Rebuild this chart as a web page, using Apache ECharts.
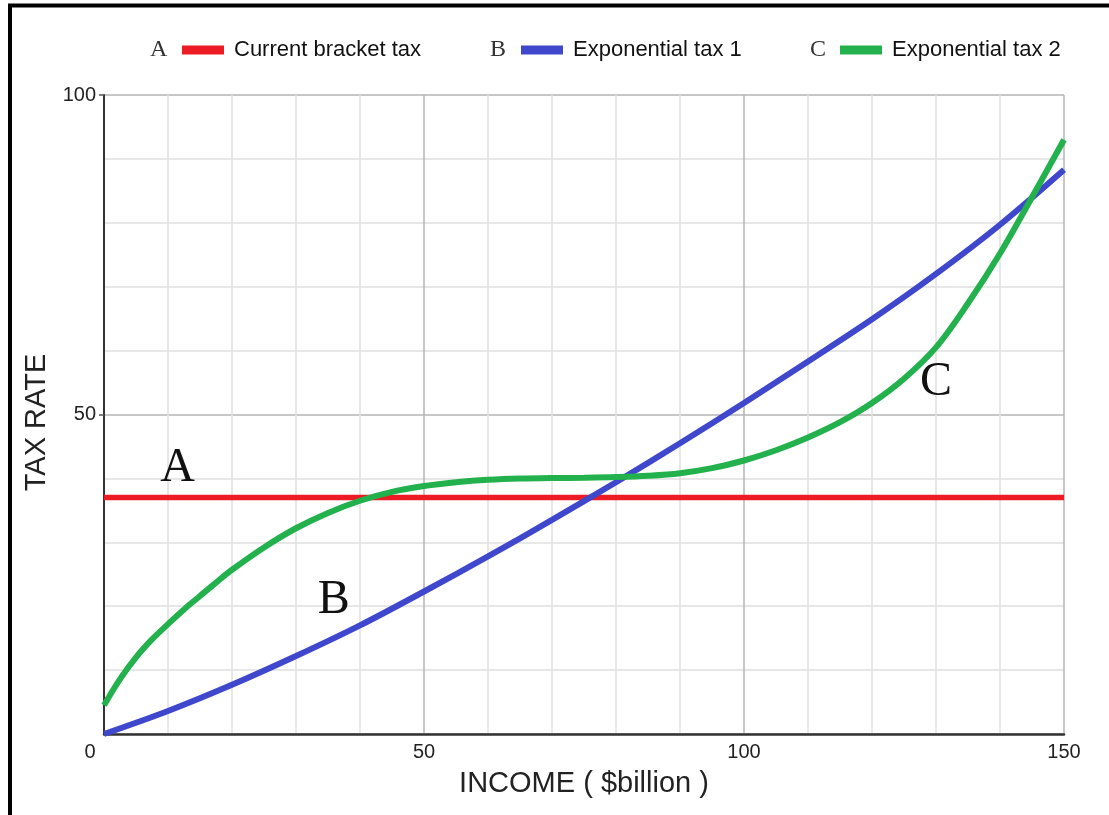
<!DOCTYPE html>
<html>
<head>
<meta charset="utf-8">
<script src="https://cdn.jsdelivr.net/npm/echarts@6/dist/echarts.min.js"></script>
<style>
html,body{margin:0;padding:0;background:#fff;}
#chart{width:1109px;height:815px;}
</style>
</head>
<body>
<div id="chart"></div>
<script>
// ---- data ----
const incomeTicks = [0, 50, 100, 150];
const rateTicks = [0, 50, 100];

const bracketIncome = [0, 150];
const bracketRate = [37, 37];

const exp1Income = [0, 10, 20, 30, 40, 50, 60, 70, 80, 90, 100, 110, 120, 130, 140, 150];
const exp1Rate = [0, 3.6, 7.7, 12.2, 17.0, 22.3, 27.8, 33.5, 39.4, 45.5, 51.8, 58.3, 64.9,
  72.0, 79.7, 88.3];

const exp2Income = [0, 2.5, 5, 7.5, 10, 12.5, 15, 17.5, 20, 25, 30, 35, 40, 45, 50, 55, 60,
  65, 70, 75, 80, 85, 90, 95, 100, 105, 110, 115, 120, 125, 130, 135, 140, 145, 150];
const exp2Rate = [4.5, 8.6, 12.0, 14.8, 17.2, 19.5, 21.6, 23.7, 25.7, 29.2, 32.2, 34.6,
  36.5, 37.9, 38.8, 39.4, 39.8, 40.0, 40.05, 40.1, 40.2, 40.4, 40.8, 41.6, 42.8, 44.4,
  46.4, 48.8, 51.8, 55.6, 60.5, 67.4, 75.2, 84.0, 93.0];

const seriesNames = ['Current bracket tax', 'Exponential tax 1', 'Exponential tax 2'];
const seriesLetters = ['A', 'B', 'C'];
const letterIncome = [11.5, 35.9, 130.0];
const letterRate = [41.6, 20.9, 55.1];
const colors = ['#ed1c24', '#3f48cc', '#22b14c'];

// ---- chart ----
const chart = echarts.init(document.getElementById('chart'));
const pairs = (xs, ys) => xs.map((x, i) => [x, ys[i]]);
const sans = '"Liberation Sans", Arial, sans-serif';
const serif = '"Liberation Serif", "Times New Roman", serif';

const legendLefts = [177, 516, 835];
const letterLefts = [158, 498, 818];

function letterMark(i) {
  return {
    symbol: 'rect', symbolSize: 0, silent: true,
    data: [{ coord: [letterIncome[i], letterRate[i]], value: seriesLetters[i] }],
    label: { show: true, position: 'inside', formatter: seriesLetters[i],
      fontFamily: serif, fontSize: 48, color: '#111' }
  };
}

const option = {
  animation: false,
  backgroundColor: '#fff',
  color: colors,
  grid: { left: 104, right: 45, top: 95, bottom: 81, containLabel: false },
  legend: seriesNames.map((n, i) => ({
    left: legendLefts[i], top: 34, icon: 'rect', itemWidth: 42, itemHeight: 9,
    selectedMode: false, data: [n],
    textStyle: { fontSize: 22, color: '#111', fontFamily: sans, padding: [0, 0, 0, 5] }
  })),
  xAxis: {
    type: 'value', min: 0, max: 150, interval: 50,
    name: 'INCOME ( $billion )', nameLocation: 'middle', nameGap: 35,
    nameTextStyle: { fontSize: 29, color: '#222', fontFamily: sans },
    axisLine: { show: true, onZero: false, lineStyle: { color: '#333', width: 2.5 } },
    axisTick: { show: false },
    axisLabel: {
      fontSize: 20, color: '#222', fontFamily: sans, margin: 8,
      formatter: v => (v === 0 ? '{z|0}' : String(v)),
      rich: { z: { fontSize: 20, color: '#222', fontFamily: sans, padding: [0, 28, 0, 0] } }
    },
    splitLine: { show: true, lineStyle: { color: '#b4b4b4', width: 1.5 } },
    minorTick: { show: false, splitNumber: 5 },
    minorSplitLine: { show: true, lineStyle: { color: '#e0e0e0', width: 1.5 } }
  },
  yAxis: {
    type: 'value', min: 0, max: 100, interval: 50,
    name: 'TAX RATE', nameLocation: 'middle', nameGap: 52,
    nameTextStyle: { fontSize: 29, color: '#222', fontFamily: sans, padding: [0, 16, 0, 0] },
    axisLine: { show: true, onZero: false, lineStyle: { color: '#333', width: 2 } },
    axisTick: { show: true, length: 5, lineStyle: { color: '#555', width: 1.5 } },
    axisLabel: { fontSize: 20, color: '#222', fontFamily: sans, margin: 8, showMinLabel: false },
    splitLine: { show: true, lineStyle: { color: '#b4b4b4', width: 1.5 } },
    minorTick: { show: false, splitNumber: 5 },
    minorSplitLine: { show: true, lineStyle: { color: '#e0e0e0', width: 1.5 } }
  },
  series: [
    { name: seriesNames[0], type: 'line', showSymbol: false, symbol: 'none',
      data: pairs(bracketIncome, bracketRate),
      lineStyle: { color: colors[0], width: 5.5 }, markPoint: letterMark(0) },
    { name: seriesNames[1], type: 'line', showSymbol: false, symbol: 'none',
      smooth: 0.35,
      data: pairs(exp1Income, exp1Rate),
      lineStyle: { color: colors[1], width: 6 }, markPoint: letterMark(1) },
    { name: seriesNames[2], type: 'line', showSymbol: false, symbol: 'none',
      smooth: 0.35,
      data: pairs(exp2Income, exp2Rate),
      lineStyle: { color: colors[2], width: 6 }, markPoint: letterMark(2) }
  ],
  graphic: [
    { type: 'line', shape: { x1: 8, y1: 5.5, x2: 1109, y2: 5.5 }, style: { stroke: '#000', lineWidth: 4 }, silent: true },
    { type: 'line', shape: { x1: 10, y1: 4, x2: 10, y2: 815 }, style: { stroke: '#000', lineWidth: 4 }, silent: true }
  ].concat(seriesLetters.map((L, i) => ({
    type: 'text', left: letterLefts[i] - 8, top: 38, silent: true,
    style: { text: L, font: '24px ' + serif, fill: '#333' }
  })))
};
chart.setOption(option);
</script>
</body>
</html>
